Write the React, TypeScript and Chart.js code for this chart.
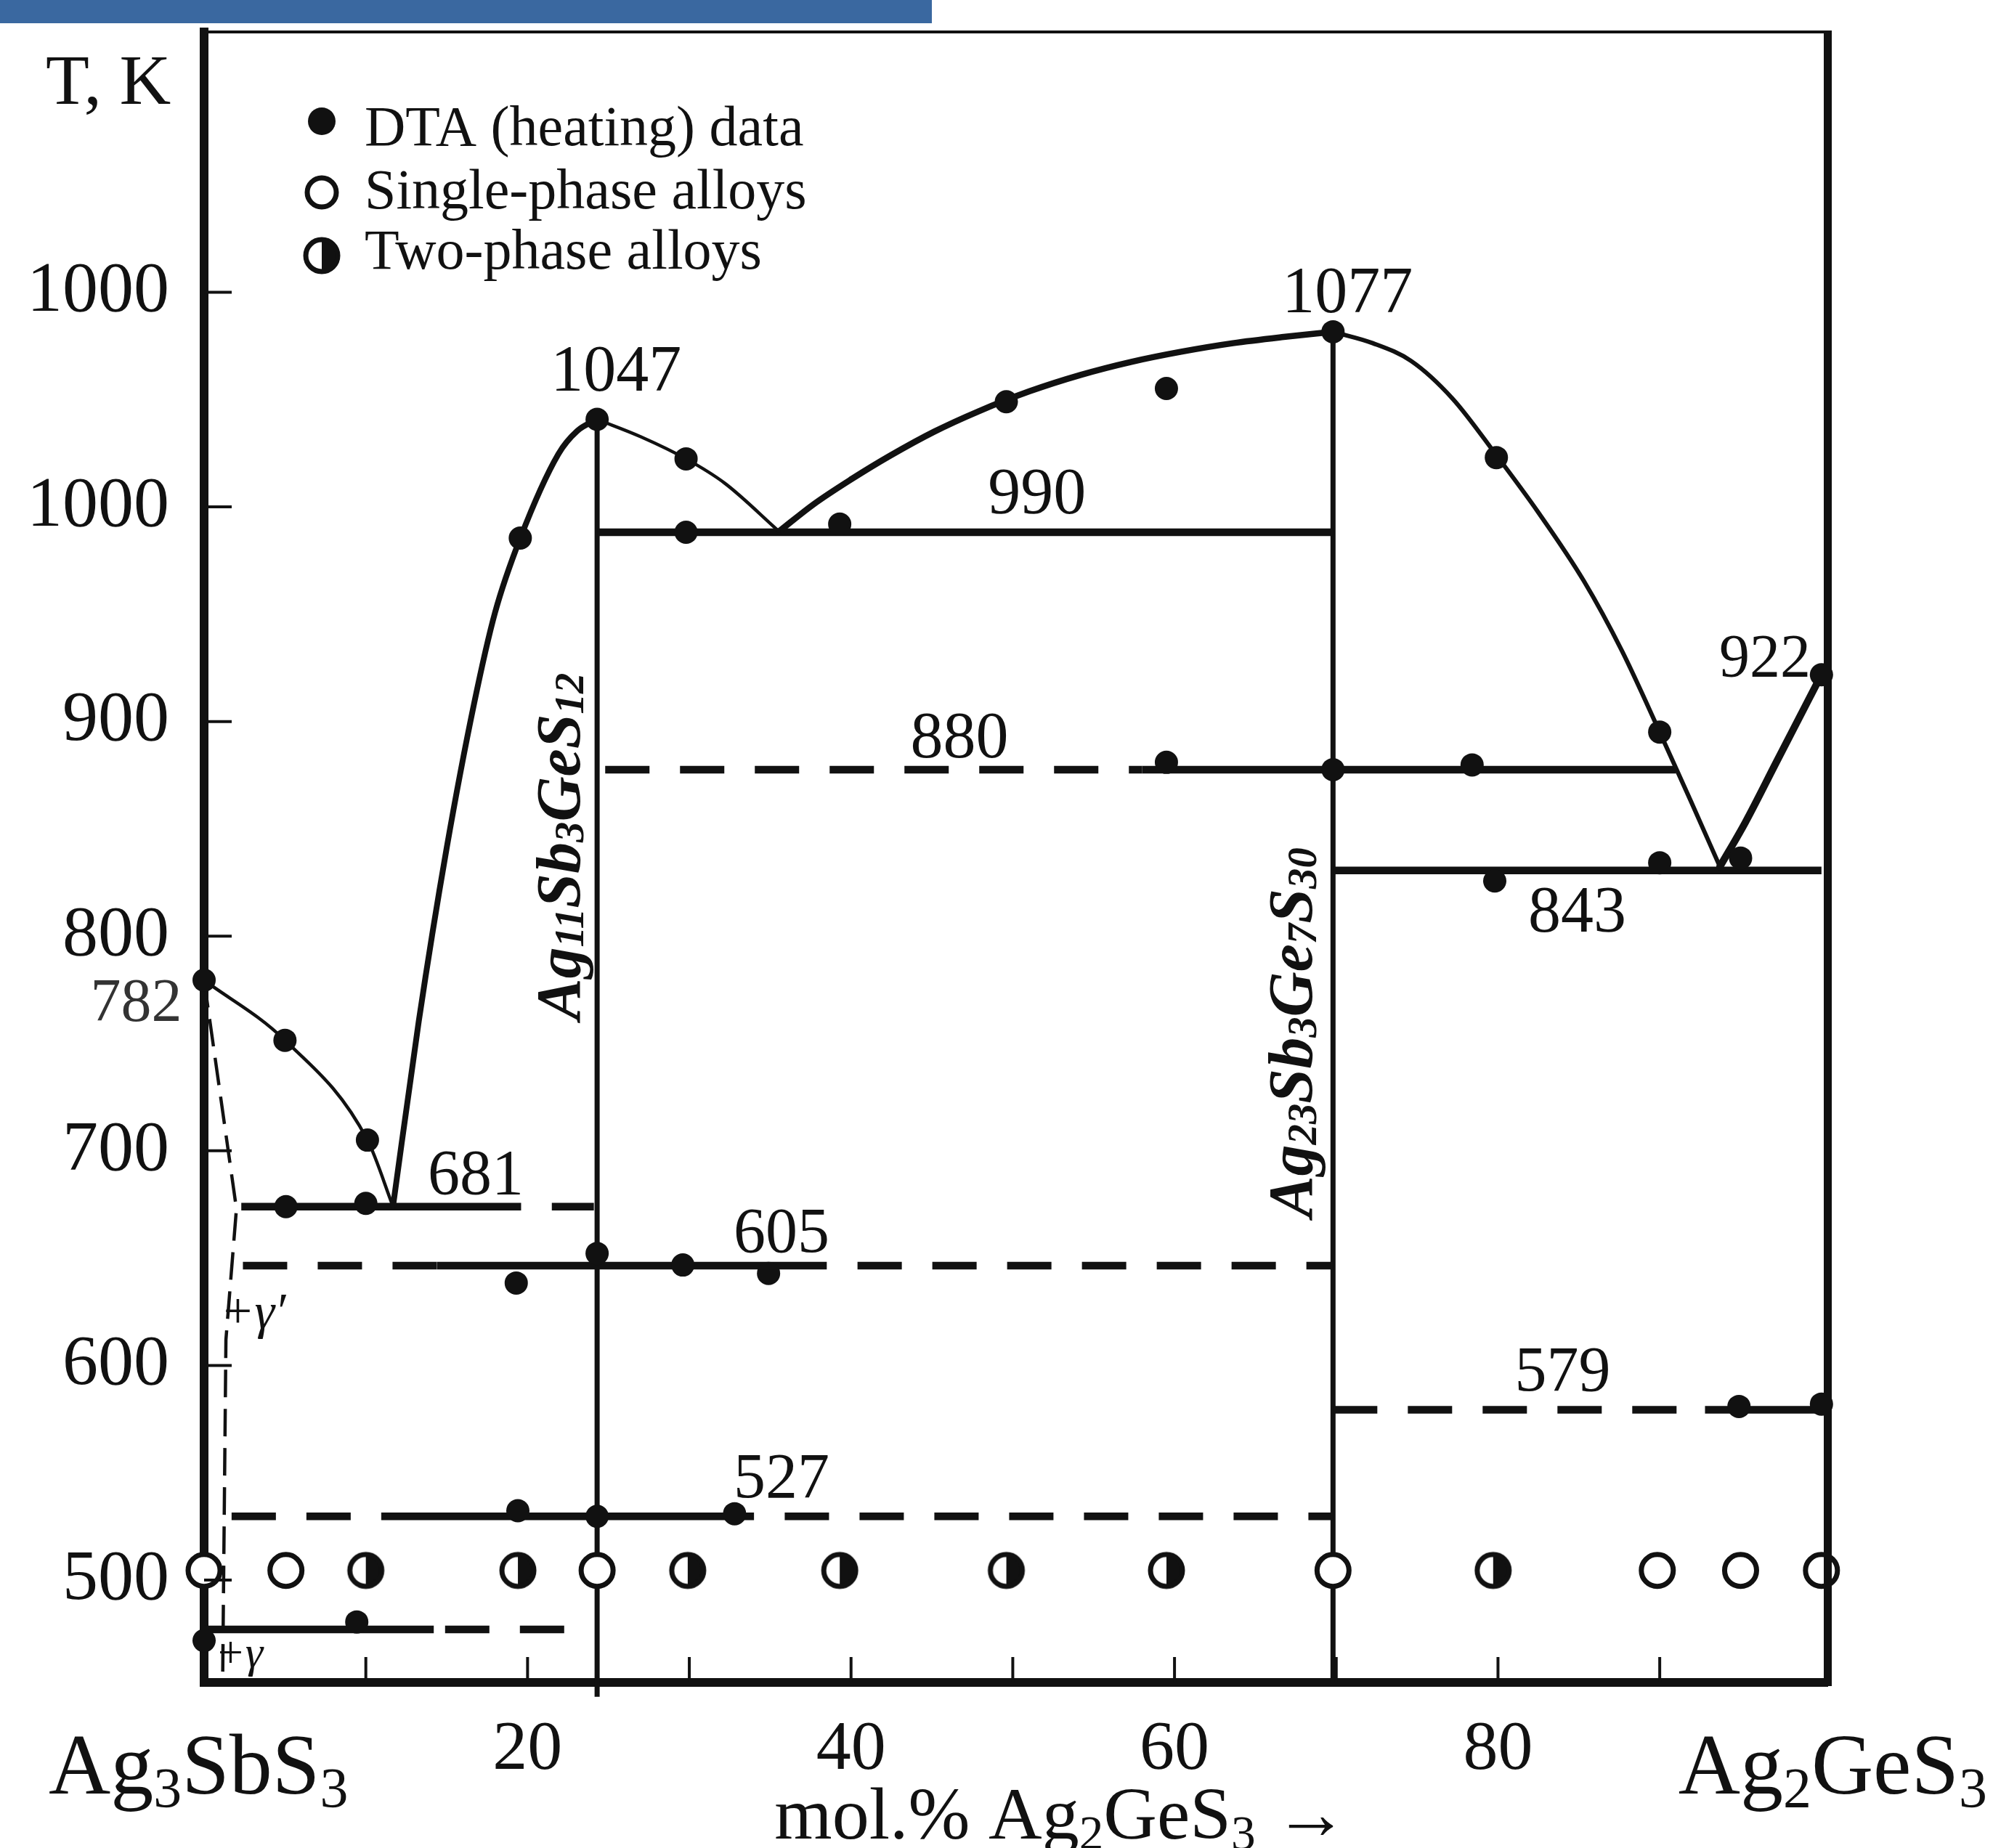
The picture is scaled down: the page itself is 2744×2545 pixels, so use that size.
import React, { useEffect, useRef } from 'react';
import { Chart, registerables } from 'chart.js';

Chart.register(...registerables);

const FONT = '"Liberation Serif", "Times New Roman", serif';
const INK = '#111111';
const BAR_COLOR = '#3A68A0';

// ---------- axes ----------
const X_MIN = 0;
const X_MAX = 100.39;
const Y_MIN = 452.3;
const Y_MAX = 1221.3;
const X_TICKS = [10, 20, 30, 40, 50, 60, 70, 80, 90];
const X_TICK_LABELS = [20, 40, 60, 80];
const Y_TICKS = [500, 600, 700, 800, 900, 1000, 1100];
const Y_TICK_TEXT = ['500', '600', '700', '800', '900', '1000', '1000'];

// ---------- experimental points ----------
const DTA_X = [0, 5.0, 10.1, 5.06, 10.0, 19.55, 24.3, 29.8, 29.8, 39.3, 49.6, 59.5, 69.8, 79.9, 90.0, 100, 59.5, 69.8, 78.4, 79.8, 90.0, 95.0, 24.3, 19.3, 29.6, 34.9, 19.4, 24.3, 32.8, 94.9, 100, 9.44, 0];
const DTA_T = [779.5, 751.5, 705, 674, 675.5, 985.5, 1040.8, 1022.4, 988.2, 992, 1049, 1055.2, 1081.6, 1023, 895.1, 921.8, 881, 877.6, 879.8, 825.7, 834.2, 836.4, 652.2, 638.4, 646.8, 642.9, 532.3, 529.7, 530.9, 580.9, 582, 480.5, 471.8];
const SINGLE_X = [0, 5.06, 24.3, 69.8, 89.85, 95.0, 100];
const SINGLE_T = [504.5, 504.5, 504.5, 504.5, 504.5, 504.5, 504.5];
const TWO_X = [10.0, 19.4, 29.9, 39.3, 49.6, 59.5, 79.7];
const TWO_T = [504.5, 504.5, 504.5, 504.5, 504.5, 504.5, 504.5];

// ---------- liquidus curves ----------
const LIQ1_X = [0, 5.0, 10.1, 11.68];
const LIQ1_T = [779.5, 751.5, 705, 674.1];
const LIQ2_X = [11.68, 13.27, 15.0, 16.7, 17.99, 19.55, 21.9, 23.07, 24.3];
const LIQ2_T = [674.1, 760.2, 841.1, 908.6, 950.8, 985.5, 1024.6, 1035.4, 1040.8];
const LIQ3_X = [24.3, 27.0, 29.8, 32.2, 35.55];
const LIQ3_T = [1040.8, 1032.7, 1022.4, 1011, 988.6];
const LIQ4_X = [35.55, 37.68, 40.04, 42.4, 45.15, 47.9, 51.04, 54.19, 57.33, 60.47, 63.61, 66.75, 69.8];
const LIQ4_T = [988.6, 1001.2, 1013.0, 1023.8, 1035.1, 1044.6, 1053.9, 1061.5, 1067.6, 1072.4, 1076.3, 1079.2, 1081.6];
const LIQ5_X = [69.8, 72.26, 74.63, 77.21, 79.89, 82.48, 85.3, 87.66, 90.03, 91.91, 93.72];
const LIQ5_T = [1081.6, 1076.3, 1068.0, 1050.3, 1024.2, 997.6, 965.6, 933.0, 894.6, 863.2, 832.4];
const LIQ6_X = [93.72, 95.3, 97.2, 100];
const LIQ6_T = [832.4, 853.1, 880.9, 921.8];

// ---------- horizontal invariant lines ----------
const SOLID_T = [988.2, 877.6, 830.6, 674.0, 646.5, 529.7, 579.3, 477.0];
const SOLID_X0 = [24.3, 58.0, 69.8, 2.3, 14.4, 11.0, 92.8, 0];
const SOLID_X1 = [69.8, 91.0, 100, 19.6, 38.5, 34.0, 100, 14.2];
const DASH_T = [877.6, 674.0, 646.5, 646.5, 529.7, 529.7, 579.3, 477.0];
const DASH_X0 = [24.8, 21.5, 2.4, 40.4, 1.7, 35.9, 69.8, 14.9];
const DASH_X1 = [58.0, 24.1, 14.4, 69.8, 11.0, 69.8, 92.8, 22.6];

// ---------- vertical lines (compounds) ----------
const COMP_X = [24.3, 69.8];
const COMP_TOP = [1040.8, 1081.6];
const COMP_BOTTOM = [445.6, 452.3];
// dashed solubility boundary near Ag3SbS3
const BOUND_X = [0, 2.0, 1.35, 1.15];
const BOUND_T = [779.5, 673, 612, 455];

// ---------- texts ----------
const LEGEND_TEXT = ['DTA (heating) data', 'Single-phase alloys', 'Two-phase alloys'];

type Lbl = { text: string; x: number; y: number; size: number; style?: string; align?: string; color?: string };
const LABELS: Lbl[] = [
  { text: '1047', x: 25.47, y: 1054.2, size: 90 },
  { text: '1077', x: 70.7, y: 1090.7, size: 90 },
  { text: '990', x: 51.5, y: 997.0, size: 90 },
  { text: '880', x: 46.7, y: 883.3, size: 90 },
  { text: '843', x: 84.9, y: 802.0, size: 90 },
  { text: '922', x: 96.5, y: 921.0, size: 84 },
  { text: '782', x: -4.2, y: 760.5, size: 84, color: '#333' },
  { text: '681', x: 16.8, y: 679.9, size: 88 },
  { text: '605', x: 35.7, y: 652.9, size: 88 },
  { text: '527', x: 35.7, y: 538.7, size: 88 },
  { text: '579', x: 84.0, y: 588.3, size: 88 },
  { text: 'T, K', x: -5.92, y: 1187.8, size: 98 },
  { text: 'Ag_{3}SbS_{3}', x: -0.35, y: 400.5, size: 118 },
  { text: 'Ag_{2}GeS_{3}', x: 100.7, y: 400.5, size: 118 },
  { text: 'mol.% Ag_{2}GeS_{3} →', x: 53.0, y: 379.7, size: 102 },
  { text: '+γ′', x: 1.0, y: 617.4, size: 70, style: 'italic', align: 'left' },
  { text: '+γ', x: 0.67, y: 459.4, size: 62, style: 'italic', align: 'left' },
];
const VLABELS: Lbl[] = [
  { text: 'Ag_{11}Sb_{3}GeS_{12}', x: 22.2, y: 841.8, size: 86, style: 'italic bold' },
  { text: 'Ag_{23}Sb_{3}Ge_{7}S_{30}', x: 67.5, y: 755.1, size: 86, style: 'italic bold' },
];

function parseRich(s: string): [string, boolean][] {
  const parts: [string, boolean][] = [];
  const re = /_\{([^}]*)\}/g;
  let last = 0;
  let m: RegExpExecArray | null;
  while ((m = re.exec(s))) {
    if (m.index > last) parts.push([s.slice(last, m.index), false]);
    parts.push([m[1], true]);
    last = re.lastIndex;
  }
  if (last < s.length) parts.push([s.slice(last), false]);
  return parts;
}

function drawRich(ctx: CanvasRenderingContext2D, s: string, x: number, y: number, size: number, style: string, align: string) {
  const parts = parseRich(s);
  const fontFor = (sub: boolean) => `${style} ${sub ? size * 0.66 : size}px ${FONT}`;
  let w = 0;
  for (const [t, sub] of parts) {
    ctx.font = fontFor(sub);
    w += ctx.measureText(t).width;
  }
  let cx = align === 'center' ? x - w / 2 : align === 'right' ? x - w : x;
  ctx.textAlign = 'left';
  for (const [t, sub] of parts) {
    ctx.font = fontFor(sub);
    ctx.fillText(t, cx, sub ? y + size * 0.15 : y);
    cx += ctx.measureText(t).width;
  }
}

function makeHalf(r: number, lw: number) {
  const s = Math.ceil(2 * (r + lw));
  const c = document.createElement('canvas');
  c.width = s;
  c.height = s;
  const g = c.getContext('2d')!;
  const cx = s / 2;
  const cy = s / 2;
  g.fillStyle = '#fff';
  g.beginPath();
  g.arc(cx, cy, r, 0, Math.PI * 2);
  g.fill();
  g.fillStyle = INK;
  g.beginPath();
  g.moveTo(cx, cy - r);
  g.arc(cx, cy, r, -Math.PI / 2, Math.PI / 2);
  g.closePath();
  g.fill();
  g.strokeStyle = INK;
  g.lineWidth = lw;
  g.beginPath();
  g.arc(cx, cy, r, 0, Math.PI * 2);
  g.stroke();
  return c;
}

const pts = (xs: number[], ts: number[]) => xs.map((x, i) => ({ x, y: ts[i] }));

export default function App() {
  const ref = useRef<HTMLCanvasElement | null>(null);

  useEffect(() => {
    const canvas = ref.current;
    if (!canvas) return;
    const half = makeHalf(22, 7);

    const curve = (xs: number[], ts: number[], w: number) => ({
      data: pts(xs, ts),
      showLine: true,
      pointRadius: 0,
      borderColor: INK,
      borderWidth: w,
      cubicInterpolationMode: 'monotone',
      borderJoinStyle: 'round',
      borderCapStyle: 'round',
      clip: false,
    });
    const straight = (xs: number[], ts: number[], w: number, dash: number[] = []) => ({
      data: pts(xs, ts),
      showLine: true,
      pointRadius: 0,
      borderColor: INK,
      borderWidth: w,
      borderDash: dash,
      tension: 0,
      clip: false,
    });

    const datasets: any[] = [
      {
        label: 'DTA (heating) data',
        data: pts(DTA_X, DTA_T),
        showLine: false,
        pointRadius: 16,
        pointBackgroundColor: INK,
        pointBorderWidth: 0,
        backgroundColor: INK,
        clip: false,
      },
      {
        label: 'Single-phase alloys',
        data: pts(SINGLE_X, SINGLE_T),
        showLine: false,
        pointRadius: 22,
        pointBackgroundColor: '#fff',
        pointBorderColor: INK,
        pointBorderWidth: 7,
        clip: false,
      },
      {
        label: 'Two-phase alloys',
        data: pts(TWO_X, TWO_T),
        showLine: false,
        pointStyle: half,
        pointRadius: 25,
        clip: false,
      },
      curve(LIQ1_X, LIQ1_T, 4.5),
      curve(LIQ2_X, LIQ2_T, 8),
      curve(LIQ3_X, LIQ3_T, 4.5),
      curve(LIQ4_X, LIQ4_T, 8.5),
      curve(LIQ5_X, LIQ5_T, 6),
      curve(LIQ6_X, LIQ6_T, 10),
    ];
    SOLID_T.forEach((t, i) => datasets.push(straight([SOLID_X0[i], SOLID_X1[i]], [t, t], 10.5)));
    DASH_T.forEach((t, i) => datasets.push(straight([DASH_X0[i], DASH_X1[i]], [t, t], 10.5, [61, 42])));
    COMP_X.forEach((x, i) => datasets.push(straight([x, x], [COMP_TOP[i], COMP_BOTTOM[i]], 7)));
    datasets.push(straight(BOUND_X, BOUND_T, 4.5, [38, 16]));

    const decor = {
      id: 'phaseDecor',
      beforeDraw(chart: any) {
        const ctx = chart.ctx as CanvasRenderingContext2D;
        ctx.save();
        ctx.fillStyle = '#fff';
        ctx.fillRect(0, 0, chart.width, chart.height);
        ctx.fillStyle = BAR_COLOR;
        ctx.fillRect(0, 0, 1283, 32);
        ctx.restore();
      },
      afterDraw(chart: any) {
        const ctx = chart.ctx as CanvasRenderingContext2D;
        const xs = chart.scales.x;
        const ys = chart.scales.y;
        const a = chart.chartArea;
        ctx.save();
        ctx.strokeStyle = INK;
        ctx.fillStyle = INK;
        // right and top frame
        ctx.lineCap = 'butt';
        ctx.lineWidth = 11;
        ctx.beginPath();
        ctx.moveTo(a.right, a.top - 2);
        ctx.lineTo(a.right, a.bottom + 5);
        ctx.stroke();
        ctx.lineWidth = 4;
        ctx.beginPath();
        ctx.moveTo(a.left, a.top);
        ctx.lineTo(a.right + 5, a.top);
        ctx.stroke();
        // inward ticks
        ctx.lineWidth = 4;
        Y_TICKS.forEach((v) => {
          const y = ys.getPixelForValue(v);
          ctx.beginPath();
          ctx.moveTo(a.left, y);
          ctx.lineTo(a.left + 38, y);
          ctx.stroke();
        });
        X_TICKS.forEach((v) => {
          const x = xs.getPixelForValue(v);
          ctx.beginPath();
          ctx.moveTo(x, a.bottom);
          ctx.lineTo(x, a.bottom - 35);
          ctx.stroke();
        });
        // labels
        ctx.textBaseline = 'alphabetic';
        LABELS.forEach((l) => {
          ctx.fillStyle = l.color || INK;
          drawRich(ctx, l.text, xs.getPixelForValue(l.x), ys.getPixelForValue(l.y), l.size, l.style || 'normal', l.align || 'center');
        });
        ctx.fillStyle = INK;
        VLABELS.forEach((l) => {
          ctx.save();
          ctx.translate(xs.getPixelForValue(l.x), ys.getPixelForValue(l.y));
          ctx.rotate(-Math.PI / 2);
          ctx.textBaseline = 'middle';
          drawRich(ctx, l.text, 0, 0, l.size, l.style || 'normal', 'center');
          ctx.restore();
        });
        // legend
        const mx = a.left + 162;
        const tx = a.left + 221;
        const rowY = [a.top + 123, a.top + 221, a.top + 308];
        const baseY = [a.top + 156, a.top + 243, a.top + 326];
        ctx.textBaseline = 'alphabetic';
        ctx.fillStyle = INK;
        ctx.beginPath();
        ctx.arc(mx, rowY[0], 19, 0, Math.PI * 2);
        ctx.fill();
        ctx.fillStyle = '#fff';
        ctx.lineWidth = 7;
        ctx.beginPath();
        ctx.arc(mx, rowY[1], 20, 0, Math.PI * 2);
        ctx.fill();
        ctx.stroke();
        ctx.drawImage(half, mx - half.width / 2, rowY[2] - half.height / 2);
        ctx.fillStyle = INK;
        LEGEND_TEXT.forEach((t, i) => {
          ctx.font = `78px ${FONT}`;
          ctx.textAlign = 'left';
          ctx.fillText(t, tx, baseY[i]);
        });
        ctx.restore();
      },
    };

    const chart = new Chart(canvas, {
      type: 'scatter',
      data: { datasets },
      options: {
        responsive: false,
        maintainAspectRatio: false,
        animation: false,
        devicePixelRatio: 1,
        events: [],
        layout: { autoPadding: false, padding: { left: 0, top: 44, right: 227.5, bottom: 0 } },
        plugins: { legend: { display: false }, tooltip: { enabled: false } },
        scales: {
          x: {
            type: 'linear',
            position: 'bottom',
            min: X_MIN,
            max: X_MAX,
            afterBuildTicks: (s: any) => {
              s.ticks = X_TICKS.map((v) => ({ value: v }));
            },
            afterFit: (s: any) => {
              s.height = 228;
              s.paddingLeft = 0;
              s.paddingRight = 0;
              s.paddingTop = 0;
              s.paddingBottom = 0;
            },
            grid: { drawOnChartArea: false, drawTicks: false },
            border: { display: true, color: INK, width: 12 },
            ticks: {
              autoSkip: false,
              maxRotation: 0,
              minRotation: 0,
              padding: 36,
              color: INK,
              font: { family: FONT, size: 96 },
              callback: (v: any) => (X_TICK_LABELS.includes(Number(v)) ? String(v) : ''),
            },
          },
          y: {
            type: 'linear',
            position: 'left',
            min: Y_MIN,
            max: Y_MAX,
            afterBuildTicks: (s: any) => {
              s.ticks = Y_TICKS.map((v) => ({ value: v }));
            },
            afterFit: (s: any) => {
              s.width = 281;
              s.paddingLeft = 0;
              s.paddingRight = 0;
              s.paddingTop = 0;
              s.paddingBottom = 0;
            },
            grid: { drawOnChartArea: false, drawTicks: false },
            border: { display: true, color: INK, width: 12 },
            ticks: {
              autoSkip: false,
              padding: 48,
              color: INK,
              font: { family: FONT, size: 98 },
              callback: (_v: any, i: number) => Y_TICK_TEXT[i],
            },
          },
        },
      } as any,
      plugins: [decor],
    });

    return () => chart.destroy();
  }, []);

  return (
    <canvas
      ref={ref}
      width={2744}
      height={2545}
      style={{ position: 'fixed', left: 0, top: 0, width: '2744px', height: '2545px', display: 'block' }}
    />
  );
}
